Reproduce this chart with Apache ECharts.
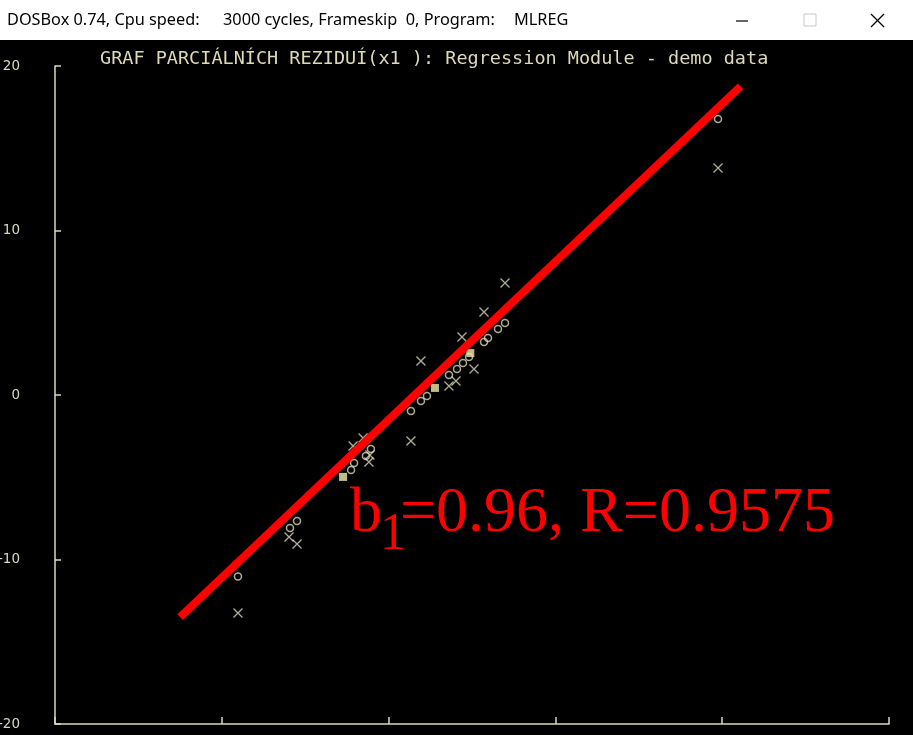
<!DOCTYPE html>
<html>
<head>
<meta charset="utf-8">
<script src="https://cdn.jsdelivr.net/npm/echarts@6/dist/echarts.min.js"></script>
<style>
  html, body { margin: 0; padding: 0; background: #000; }
  #chart { width: 913px; height: 735px; }
</style>
</head>
<body>
<div id="chart"></div>
<script>
// Partial residual plot for x1, MLREG regression module, demo data.

// 'o' marks: fitted component b1*x1 for each observation
const componentPts = [
  [19.75, 16.78], [6.98, 4.38], [6.56, 4.01], [5.96, 3.47], [5.72, 3.22],
  [4.82, 2.31], [4.46, 1.95], [4.10, 1.58], [3.62, 1.22], [2.30, -0.06],
  [1.94, -0.36], [1.34, -0.97], [-1.06, -3.28], [-1.36, -3.71], [-2.07, -4.13],
  [-2.25, -4.56], [-5.49, -7.66], [-5.91, -8.09], [-9.03, -11.03]
];

// 'x' marks: partial residuals
const residualPts = [
  [19.75, 13.80], [6.98, 6.81], [5.72, 5.05], [4.40, 3.53], [1.94, 2.07],
  [5.12, 1.58], [4.04, 0.85], [3.62, 0.55], [1.34, -2.80], [-1.53, -2.61],
  [-2.13, -3.10], [-1.12, -3.65], [-1.18, -4.07], [-5.97, -8.63], [-5.49, -9.06],
  [-9.03, -13.25]
];

// coinciding points, drawn highlighted
const overlapPts = [[4.9, 2.55], [2.78, 0.43], [-2.73, -4.98]];

// regression line
const b1 = 0.96;
const R = 0.9575;
const intercept = -1.5;
const lineRange = [-12.5, 21.1];

// axes
const xMin = -20, xMax = 30, xStep = 10;
const yMin = -20, yMax = 20, yStep = 10;

const chartTitle = 'GRAF PARCIÁLNÍCH REZIDUÍ(x1 ): Regression Module - demo data';
const windowTitle = ['DOSBox 0.74, Cpu speed:', '3000 cycles, Frameskip  0, Program:', 'MLREG'];

const ink = '#dcd8b8';
const mono = '"DejaVu Sans Mono", monospace';
const barFont = '16.3px "Noto Sans", sans-serif';

const linePts = lineRange.map(function (x) { return [x, b1 * x + intercept]; });

const chart = echarts.init(document.getElementById('chart'));
chart.setOption({
  backgroundColor: '#000',
  animation: false,
  grid: { left: 55, right: 24, top: 66, bottom: 11, containLabel: false, outerBoundsMode: 'none' },
  xAxis: {
    type: 'value', min: xMin, max: xMax, interval: xStep,
    axisLine: { onZero: false, lineStyle: { color: ink, width: 1.5 } },
    axisTick: { inside: true, length: 7, lineStyle: { color: ink, width: 1.5 } },
    axisLabel: { show: false },
    splitLine: { show: false }
  },
  yAxis: {
    type: 'value', min: yMin, max: yMax, interval: yStep,
    axisLine: { onZero: false, lineStyle: { color: ink, width: 1.5 } },
    axisTick: { inside: true, length: 6, lineStyle: { color: ink, width: 1.5 } },
    axisLabel: { color: ink, fontFamily: '"DejaVu Sans", sans-serif', fontSize: 13.5, margin: 35 },
    splitLine: { show: false }
  },
  series: [
    {
      type: 'scatter', data: componentPts, symbol: 'circle', symbolSize: 7,
      itemStyle: { color: 'rgba(0,0,0,0)', borderColor: ink, borderWidth: 1.5 }, z: 2
    },
    {
      type: 'scatter', data: residualPts, symbol: 'path://M0,0L10,10M10,0L0,10', symbolSize: 9,
      itemStyle: { color: 'rgba(0,0,0,0)', borderColor: ink, borderWidth: 1.3 }, z: 2
    },
    {
      type: 'scatter', data: overlapPts, symbol: 'rect', symbolSize: 8,
      itemStyle: { color: '#eeeca8' }, z: 3
    },
    {
      type: 'line', data: linePts, symbol: 'none', silent: true,
      lineStyle: { color: '#ff0000', width: 8, cap: 'butt' }, z: 5
    }
  ],
  graphic: [
    { type: 'rect', shape: { x: 0, y: 0, width: 913, height: 40 }, style: { fill: '#ffffff' }, z: 10 },
    { type: 'text', x: 7, y: 20, z: 11, style: { text: windowTitle[0], fill: '#000', font: barFont, verticalAlign: 'middle' } },
    { type: 'text', x: 223, y: 20, z: 11, style: { text: windowTitle[1], fill: '#000', font: barFont, verticalAlign: 'middle' } },
    { type: 'text', x: 514, y: 20, z: 11, style: { text: windowTitle[2], fill: '#000', font: barFont, verticalAlign: 'middle' } },
    { type: 'line', shape: { x1: 736, y1: 21, x2: 748, y2: 21 }, style: { stroke: '#000', lineWidth: 1.2 }, z: 11 },
    { type: 'rect', shape: { x: 804, y: 14, width: 12, height: 12 }, style: { fill: 'none', stroke: '#c8c8c8', lineWidth: 1 }, z: 11 },
    { type: 'line', shape: { x1: 871, y1: 14, x2: 884, y2: 27 }, style: { stroke: '#000', lineWidth: 1.3 }, z: 11 },
    { type: 'line', shape: { x1: 884, y1: 14, x2: 871, y2: 27 }, style: { stroke: '#000', lineWidth: 1.3 }, z: 11 },
    { type: 'text', x: 100, y: 59, z: 11, style: { text: chartTitle, fill: ink, font: '18.5px ' + mono, verticalAlign: 'middle' } },
    { type: 'text', x: 350, y: 514, z: 11, style: { text: 'b', fill: '#ff0000', font: '64px "Liberation Serif", serif', verticalAlign: 'middle' } },
    { type: 'text', x: 380, y: 535, z: 11, style: { text: '1', fill: '#ff0000', font: '52px "Liberation Serif", serif', verticalAlign: 'middle' } },
    { type: 'text', x: 400, y: 514, z: 11, style: { text: '=' + b1.toFixed(2) + ', R=' + R, fill: '#ff0000', font: '64px "Liberation Serif", serif', verticalAlign: 'middle' } }
  ]
});
</script>
</body>
</html>
